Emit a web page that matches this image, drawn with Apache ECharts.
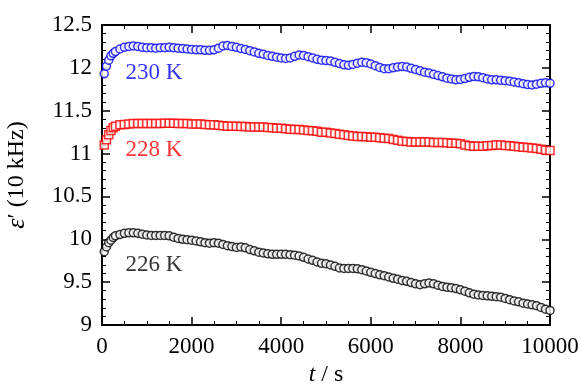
<!DOCTYPE html>
<html>
<head>
<meta charset="utf-8">
<script src="https://cdn.jsdelivr.net/npm/echarts@6/dist/echarts.min.js"></script>
<style>
  html, body { margin: 0; padding: 0; background: #fff; }
  #chart { width: 582px; height: 385px; }
</style>
</head>
<body>
<div id="chart"></div>
<script>
// time axis (s)
var times = [50, 100, 150, 200, 250, 300,
  400, 500, 600, 700, 800, 900, 1000, 1100, 1200, 1300, 1400, 1500, 1600, 1700, 1800, 1900,
  2000, 2100, 2200, 2300, 2400, 2500, 2600, 2700, 2800, 2900, 3000, 3100, 3200, 3300, 3400,
  3500, 3600, 3700, 3800, 3900, 4000, 4100, 4200, 4300, 4400, 4500, 4600, 4700, 4800, 4900,
  5000, 5100, 5200, 5300, 5400, 5500, 5600, 5700, 5800, 5900, 6000, 6100, 6200, 6300, 6400,
  6500, 6600, 6700, 6800, 6900, 7000, 7100, 7200, 7300, 7400, 7500, 7600, 7700, 7800, 7900,
  8000, 8100, 8200, 8300, 8400, 8500, 8600, 8700, 8800, 8900, 9000, 9100, 9200, 9300, 9400,
  9500, 9600, 9700, 9800, 9900, 10000];

// 230 K
var eps230 = [11.93, 12.02, 12.09, 12.14, 12.17, 12.19,
  12.22, 12.24, 12.25, 12.255, 12.25, 12.24, 12.235, 12.235, 12.23, 12.235, 12.235, 12.24, 12.235, 12.23, 12.225, 12.22,
  12.215, 12.21, 12.21, 12.205, 12.205, 12.21, 12.23, 12.255, 12.26, 12.25, 12.24, 12.225, 12.215, 12.2, 12.185,
  12.17, 12.16, 12.145, 12.135, 12.125, 12.115, 12.11, 12.115, 12.135, 12.15, 12.145, 12.13, 12.115, 12.1, 12.09,
  12.085, 12.08, 12.065, 12.05, 12.035, 12.03, 12.04, 12.055, 12.065, 12.06, 12.045, 12.025, 12.005, 11.99, 11.99,
  12.0, 12.01, 12.015, 12.01, 11.995, 11.98, 11.965, 11.95, 11.94, 11.925, 11.91, 11.895, 11.88, 11.87, 11.86,
  11.865, 11.875, 11.89, 11.9, 11.895, 11.885, 11.87, 11.86, 11.86, 11.855, 11.85, 11.845, 11.835, 11.825, 11.815,
  11.805, 11.8, 11.81, 11.82, 11.825, 11.82];

// 228 K
var eps228 = [11.10, 11.16, 11.22, 11.27, 11.30, 11.32,
  11.335, 11.34, 11.345, 11.35, 11.35, 11.35, 11.35, 11.35, 11.35, 11.35, 11.355, 11.355, 11.355, 11.35, 11.35, 11.35,
  11.345, 11.345, 11.345, 11.34, 11.335, 11.335, 11.33, 11.325, 11.32, 11.32, 11.32, 11.315, 11.315, 11.31, 11.31,
  11.31, 11.31, 11.305, 11.3, 11.295, 11.295, 11.29, 11.285, 11.28, 11.28, 11.275, 11.27, 11.265, 11.26, 11.25,
  11.25, 11.24, 11.235, 11.225, 11.22, 11.21, 11.205, 11.2, 11.2, 11.195, 11.19, 11.19, 11.185, 11.18, 11.175,
  11.165, 11.155, 11.145, 11.14, 11.135, 11.135, 11.135, 11.135, 11.135, 11.13, 11.13, 11.13, 11.125, 11.12, 11.12,
  11.115, 11.1, 11.09, 11.085, 11.085, 11.085, 11.09, 11.095, 11.1, 11.1, 11.095, 11.09, 11.085, 11.08, 11.075,
  11.07, 11.065, 11.06, 11.05, 11.04, 11.035];

// 226 K
var eps226 = [9.855, 9.91, 9.96, 9.99, 10.02, 10.04,
  10.055, 10.07, 10.075, 10.075, 10.07, 10.06, 10.05, 10.045, 10.045, 10.045, 10.045, 10.04, 10.025, 10.01, 10.0, 9.995,
  9.99, 9.98, 9.97, 9.96, 9.955, 9.96, 9.955, 9.94, 9.925, 9.915, 9.905, 9.91, 9.9, 9.88, 9.865,
  9.85, 9.84, 9.83, 9.825, 9.825, 9.825, 9.825, 9.82, 9.815, 9.805, 9.79, 9.77, 9.755, 9.735, 9.72,
  9.715, 9.7, 9.685, 9.665, 9.66, 9.66, 9.66, 9.655, 9.645, 9.63, 9.615, 9.6, 9.585, 9.575, 9.56,
  9.545, 9.535, 9.52, 9.51, 9.495, 9.48, 9.47, 9.48, 9.49, 9.48, 9.465, 9.45, 9.44, 9.435, 9.425,
  9.41, 9.395, 9.375, 9.36, 9.35, 9.345, 9.34, 9.335, 9.33, 9.325, 9.31, 9.295, 9.28, 9.27, 9.255,
  9.245, 9.235, 9.225, 9.205, 9.185, 9.17];

// curve labels: text, [t, eps] anchor
var labelNames = ['230 K', '228 K', '226 K'];
var labelPos = [[1160, 11.94], [1160, 11.04], [1160, 9.70]];
var labelColors = ['#0000ff', '#ff0000', '#000000'];

var FONT = "'Liberation Serif', 'Times New Roman', serif";

function pairs(ys) {
  return times.map(function (t, i) { return [t, ys[i]]; });
}

// axis shared bits (boxed frame, inward ticks)
function frameAxis(extra) {
  var base = {
    axisLine: { show: true, onZero: false, lineStyle: { color: '#000', width: 2 } },
    axisTick: { show: true, inside: true, length: 8, lineStyle: { color: '#000', width: 1.5 } },
    minorTick: { show: true, length: 4, lineStyle: { color: '#000', width: 1 } },
    splitLine: { show: false },
    axisLabel: { show: false }
  };
  return Object.assign(base, extra);
}

var myChart = echarts.init(document.getElementById('chart'));

var option = {
  animation: false,
  backgroundColor: '#fff',
  grid: { left: 102, right: 32, top: 25, bottom: 60, containLabel: false, outerBoundsMode: 'none' },
  xAxis: [
    frameAxis({
      type: 'value', position: 'bottom', min: 0, max: 10000, interval: 2000,
      minorTick: { show: true, splitNumber: 4, length: 4, lineStyle: { color: '#000', width: 1 } },
      axisLabel: {
        show: true, margin: 10, color: '#000', fontSize: 23, fontFamily: FONT,
        formatter: function (v) { return String(v); }
      },
      name: '{i|t} / s', nameLocation: 'middle', nameGap: 36,
      nameTextStyle: {
        color: '#000', fontSize: 24, fontFamily: FONT,
        rich: { i: { fontStyle: 'italic', fontSize: 24, fontFamily: FONT, color: '#000' } }
      }
    }),
    frameAxis({
      type: 'value', position: 'top', min: 0, max: 10000, interval: 2000,
      minorTick: { show: true, splitNumber: 4, length: 4, lineStyle: { color: '#000', width: 1 } }
    })
  ],
  yAxis: [
    frameAxis({
      type: 'value', position: 'left', min: 9, max: 12.5, interval: 0.5,
      minorTick: { show: true, splitNumber: 5, length: 4, lineStyle: { color: '#000', width: 1 } },
      axisLabel: {
        show: true, margin: 10, color: '#000', fontSize: 23, fontFamily: FONT,
        formatter: function (v) { return String(v); }
      },
      name: '{i|ε}′ (10 kHz)', nameLocation: 'middle', nameGap: 72, nameRotate: 90,
      nameTextStyle: {
        color: '#000', fontSize: 24, fontFamily: FONT,
        rich: { i: { fontStyle: 'italic', fontSize: 26, fontFamily: FONT, color: '#000' } }
      }
    }),
    frameAxis({
      type: 'value', position: 'right', min: 9, max: 12.5, interval: 0.5,
      minorTick: { show: true, splitNumber: 5, length: 4, lineStyle: { color: '#000', width: 1 } }
    })
  ],
  series: [
    {
      name: '230 K', type: 'scatter', symbol: 'circle', symbolSize: 8,
      itemStyle: { color: '#fff', borderColor: '#0000ff', borderWidth: 1.5 },
      data: pairs(eps230), z: 3
    },
    {
      name: '228 K', type: 'scatter', symbol: 'rect', symbolSize: 8,
      itemStyle: { color: '#fff', borderColor: '#ff0000', borderWidth: 1.5 },
      data: pairs(eps228), z: 3
    },
    {
      name: '226 K', type: 'scatter', symbol: 'circle', symbolSize: 8,
      itemStyle: { color: '#fff', borderColor: '#000', borderWidth: 1.5 },
      data: pairs(eps226), z: 3
    },
    {
      // text labels next to the curves
      type: 'scatter', symbolSize: 0, silent: true, z: 5,
      data: labelNames.map(function (n, i) {
        return {
          value: labelPos[i],
          label: {
            show: true, position: 'inside', formatter: n,
            color: labelColors[i], fontSize: 23, fontFamily: FONT
          }
        };
      })
    }
  ]
};

myChart.setOption(option);
window.addEventListener('resize', function () {
  myChart.resize();
});
</script>
</body>
</html>
